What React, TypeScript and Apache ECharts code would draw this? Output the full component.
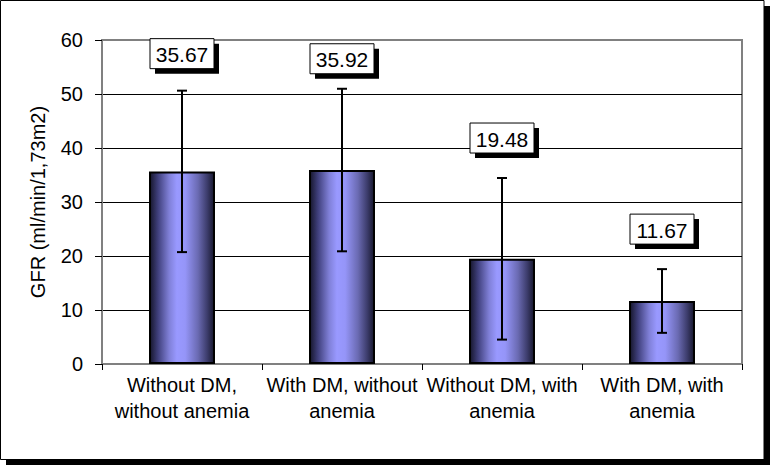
import React, { useEffect, useRef } from "react";
import * as echarts from "echarts";

const categories = [
  "Without DM,\nwithout anemia",
  "With DM, without\nanemia",
  "Without DM, with\nanemia",
  "With DM, with\nanemia",
];
const means = [35.67, 35.92, 19.48, 11.67];
const sds = [14.95, 15.05, 14.96, 5.9];
const yAxisTitle = "GFR (ml/min/1,73m2)";

// pixel offsets of the value boxes above the error-bar tops (style only)
const labelOffsets = [-37, -30, -40, -40];

const FONT = "'Liberation Sans', Arial, sans-serif";

export default function App() {
  const ref = useRef<HTMLDivElement>(null);

  useEffect(() => {
    document.body.style.margin = "0";
    if (!ref.current) return;
    const chart = echarts.init(ref.current, undefined, { renderer: "svg" });

    const errData = means.map((m, i) => [i, m - sds[i], m + sds[i], m]);

    const option: any = {
      animation: false,
      backgroundColor: "transparent",
      textStyle: { fontFamily: FONT },
      graphic: [
        {
          type: "rect",
          z: -10,
          shape: { x: 6, y: 6, width: 764, height: 459 },
          style: { fill: "#000" },
        },
        {
          type: "rect",
          z: -9,
          shape: { x: 0.5, y: 0.5, width: 763.5, height: 459 },
          style: { fill: "#fff", stroke: "#000", lineWidth: 1 },
        },
      ],
      grid: {
        left: 102,
        top: 40,
        width: 640,
        height: 324,
        show: true,
        borderColor: "#808080",
        borderWidth: 2,
        backgroundColor: "transparent",
      },
      xAxis: {
        type: "category",
        data: categories,
        axisLine: { show: true, lineStyle: { color: "#808080", width: 2 } },
        axisTick: {
          show: true,
          alignWithLabel: false,
          length: 6,
          lineStyle: { color: "#000", width: 1 },
        },
        axisLabel: {
          interval: 0,
          fontSize: 20,
          lineHeight: 26,
          color: "#000",
          fontFamily: FONT,
          margin: 8,
        },
        splitLine: { show: false },
      },
      yAxis: {
        type: "value",
        min: 0,
        max: 60,
        interval: 10,
        name: yAxisTitle,
        nameLocation: "middle",
        nameRotate: 90,
        nameGap: 54,
        nameTextStyle: { fontSize: 20, color: "#000", fontFamily: FONT },
        axisLine: { show: true, lineStyle: { color: "#808080", width: 2 } },
        axisTick: { show: true, length: 7, lineStyle: { color: "#000", width: 1 } },
        axisLabel: { fontSize: 20, color: "#000", fontFamily: FONT, margin: 19 },
        splitLine: {
          show: true,
          lineStyle: {
            color: ["#808080", "#000", "#000", "#000", "#000", "#000", "#808080"],
            width: 1,
          },
        },
      },
      series: [
        {
          type: "bar",
          data: means,
          barWidth: 66,
          z: 2,
          itemStyle: {
            borderColor: "#000",
            borderWidth: 2,
            color: new echarts.graphic.LinearGradient(0, 0, 1, 0, [
              { offset: 0, color: "#16162c" },
              { offset: 0.12, color: "#3e3e7a" },
              { offset: 0.3, color: "#8080d8" },
              { offset: 0.42, color: "#9999ff" },
              { offset: 0.55, color: "#9595f8" },
              { offset: 0.75, color: "#6a6ab2" },
              { offset: 0.9, color: "#3a3a68" },
              { offset: 1, color: "#18182e" },
            ]),
          },
        },
        {
          type: "custom",
          z: 5,
          data: errData,
          encode: { x: 0, y: [1, 2] },
          renderItem: (params: any, api: any) => {
            const i = api.value(0);
            const lo = api.coord([i, api.value(1)]);
            const hi = api.coord([i, api.value(2)]);
            const mean = api.value(3);
            const x = Math.round(lo[0]);
            const cap = 5;
            const bw = 64;
            const bh = 30;
            const cy = hi[1] + labelOffsets[params.dataIndex];
            const bx = x - bw / 2;
            const by = cy - bh / 2;
            return {
              type: "group",
              children: [
                {
                  type: "line",
                  shape: { x1: x, y1: lo[1], x2: x, y2: hi[1] },
                  style: { stroke: "#000", lineWidth: 2 },
                },
                {
                  type: "line",
                  shape: { x1: x - cap, y1: lo[1], x2: x + cap, y2: lo[1] },
                  style: { stroke: "#000", lineWidth: 2 },
                },
                {
                  type: "line",
                  shape: { x1: x - cap, y1: hi[1], x2: x + cap, y2: hi[1] },
                  style: { stroke: "#000", lineWidth: 2 },
                },
                {
                  type: "rect",
                  shape: { x: bx + 5, y: by + 5, width: bw, height: bh },
                  style: { fill: "#000" },
                },
                {
                  type: "rect",
                  shape: { x: bx, y: by, width: bw, height: bh },
                  style: { fill: "#fff", stroke: "#000", lineWidth: 1 },
                },
                {
                  type: "text",
                  style: {
                    text: mean.toFixed(2),
                    x: x,
                    y: cy + 1,
                    align: "center",
                    verticalAlign: "middle",
                    fontSize: 21,
                    fontFamily: FONT,
                    fill: "#000",
                  },
                },
              ],
            };
          },
        },
      ],
    };

    chart.setOption(option);
    return () => chart.dispose();
  }, []);

  return <div ref={ref} style={{ width: 771, height: 466 }} />;
}
